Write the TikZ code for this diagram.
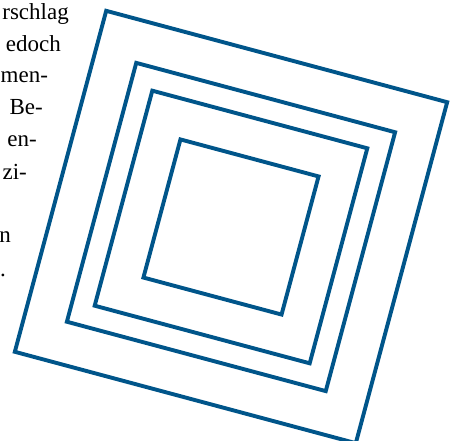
\documentclass[tikz,border=0pt]{standalone}
\usepackage{fontspec}
\setmainfont{Liberation Serif}
\definecolor{sqblue}{HTML}{00558A}
\begin{document}
\begin{tikzpicture}[x=1pt,y=1pt,
  sq/.style={draw=sqblue,line width=3.9pt,line join=miter},
  txt/.style={anchor=base east,inner sep=0pt,font=\fontsize{23}{32}\selectfont},
  txtl/.style={txt,anchor=base west}]
\useasboundingbox (0,0) rectangle (459,441);
\node[txt] (t1) at (69,421) {rschlag};
\node[txt] (t2) at (61,389) {edoch};
\node[txtl] (t3) at (0.5,358) {men-};
\node[txt] (t4) at (43,326) {Be-};
\node[txt] (t5) at (37,294) {en-};
\node[txt] (t6) at (27,261) {zi-};
\node[txt] (t7) at (11,198) {n};
\node[txtl] (t8) at (0,164) {.};
\begin{scope}[shift={(231,214)},rotate=-15]
\draw[sq] (-176.5,-176.5) rectangle (176.5,176.5);
\draw[sq] (-134,-134) rectangle (134,134);
\draw[sq] (-111.3,-111.3) rectangle (111.3,111.3);
\draw[sq] (-71.5,-71.5) rectangle (71.5,71.5);
\end{scope}
\end{tikzpicture}
\end{document}
